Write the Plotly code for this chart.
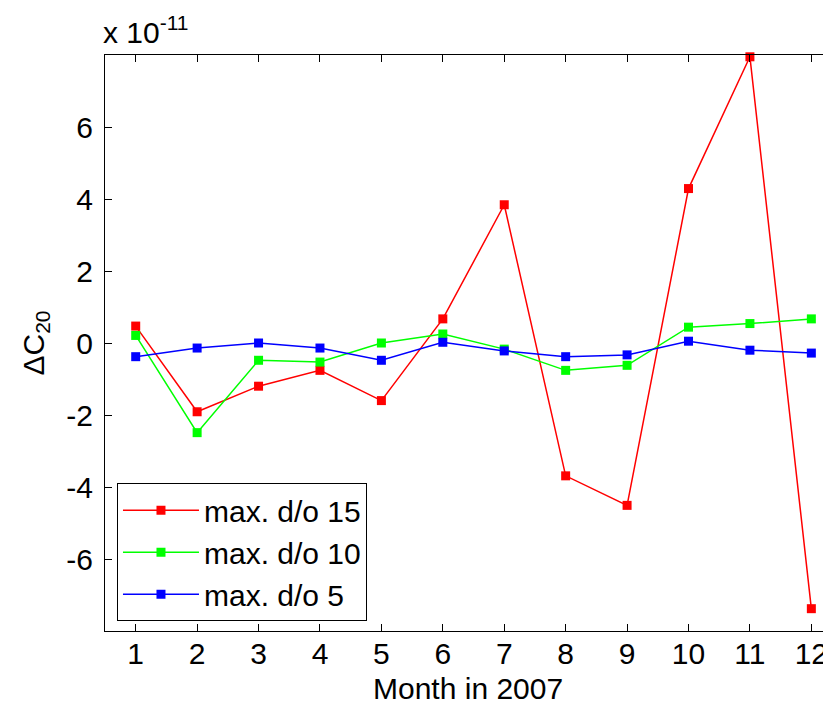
import plotly.graph_objects as go

months = list(range(1, 13))
tick_labels = [str(m) for m in months]
y_ticks = [-6, -4, -2, 0, 2, 4, 6]

do15 = [0.47, -1.91, -1.20, -0.76, -1.60, 0.67, 3.84, -3.69, -4.51, 4.29, 7.95, -7.38]
do10 = [0.21, -2.49, -0.48, -0.53, 0.00, 0.25, -0.17, -0.76, -0.62, 0.44, 0.54, 0.67]
do5 = [-0.38, -0.14, 0.00, -0.14, -0.48, 0.02, -0.22, -0.38, -0.33, 0.05, -0.20, -0.28]

series = [
    ("max. d/o 15", do15, "#FF0000"),
    ("max. d/o 10", do10, "#00FF00"),
    ("max. d/o 5", do5, "#0000FF"),
]

FONT = "Liberation Sans, Arial, Helvetica, sans-serif"
FS = 30

fig = go.Figure()
for name, vals, col in series:
    fig.add_trace(go.Scatter(
        x=months, y=vals, name=name, mode="lines+markers",
        line=dict(color=col, width=1.5),
        marker=dict(symbol="square", size=9, color=col),
        cliponaxis=False,
    ))

fig.update_layout(
    width=831, height=705,
    margin=dict(l=97, r=8, t=47, b=82, autoexpand=False),
    paper_bgcolor="white", plot_bgcolor="white",
    font=dict(family=FONT, size=FS, color="black"),
    showlegend=True,
    legend=dict(
        x=0.0165, y=0.017, xanchor="left", yanchor="bottom",
        bgcolor="white", bordercolor="black", borderwidth=1,
        font=dict(size=FS), tracegroupgap=0, itemwidth=76,
    ),
    xaxis=dict(
        range=[0.5, 12.32], tickmode="array", tickvals=months, ticktext=tick_labels,
        ticks="inside", ticklen=7, tickcolor="black", showline=True, linecolor="black",
        linewidth=1, mirror="ticks", showgrid=False, zeroline=False,
        tickfont=dict(size=FS), automargin=False, ticklabelstandoff=-4,
    ),
    yaxis=dict(
        range=[-8, 8], tickmode="array", tickvals=y_ticks,
        ticktext=[str(v) for v in y_ticks],
        ticks="inside", ticklen=7, tickcolor="black", showline=True, linecolor="black",
        linewidth=1, mirror=False, showgrid=False, zeroline=False,
        tickfont=dict(size=FS), automargin=False, ticklabelstandoff=5,
    ),
    annotations=[
        dict(text="Month in 2007", xref="paper", yref="paper", x=0.5, y=-0.099,
             xanchor="center", yanchor="middle", showarrow=False,
             font=dict(size=FS)),
        dict(text="ΔC<sub>20</sub>", xref="paper", yref="paper", x=-0.097, y=0.5,
             xanchor="center", yanchor="middle", textangle=-90, showarrow=False,
             font=dict(size=FS)),
        dict(text="x 10<sup>-11</sup>", xref="paper", yref="paper", x=-0.005, y=1.0,
             xanchor="left", yanchor="bottom", showarrow=False, yshift=4,
             font=dict(size=FS)),
    ],
)

fig.write_html("out.html")
